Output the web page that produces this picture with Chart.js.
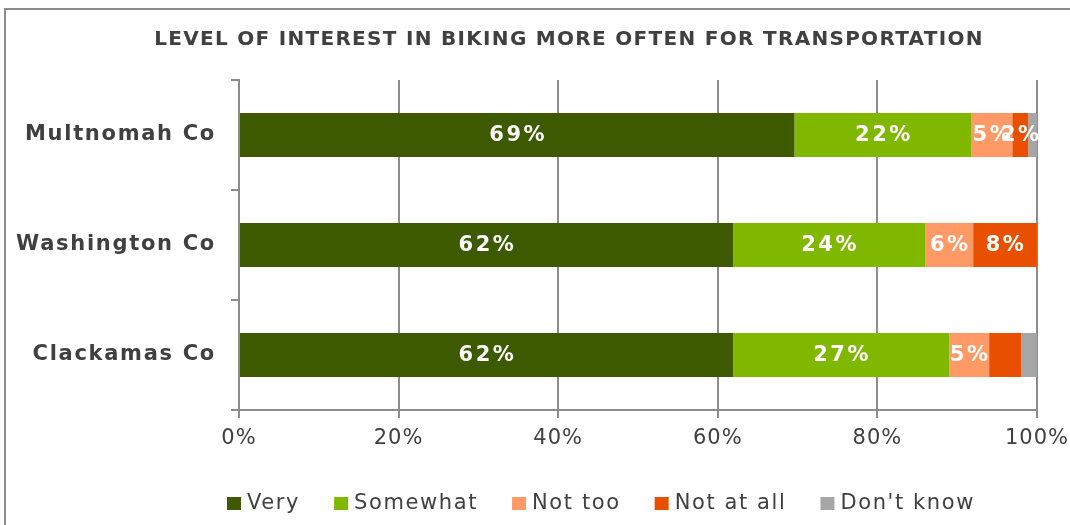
<!DOCTYPE html>
<html>
<head>
<meta charset="utf-8">
<script src="https://cdn.jsdelivr.net/npm/chart.js@4/dist/chart.umd.min.js"></script>
<style>
    html, body { margin: 0; padding: 0; background: #fff; overflow: hidden; }
    #wrap { position: relative; width: 1070px; height: 525px; }
    #frame { position: absolute; left: 4px; top: 8px; width: 1100px; height: 600px; border: 2px solid #8c8c8c; }
    #chart { position: absolute; left: 0; top: 0; }
</style>
</head>
<body>
<div id="wrap">
    <div id="frame"></div>
    <canvas id="chart" width="1070" height="525"></canvas>
</div>
<script>
// 데이터
const categories = ['Multnomah Co', 'Washington Co', 'Clackamas Co'];
const seriesNames = ['Very', 'Somewhat', 'Not too', 'Not at all', "Don't know"];
const veryValues = [69.6, 61.9, 61.9];
const somewhatValues = [22.2, 24.1, 27.1];
const notTooValues = [5.1, 6.0, 5.0];
const notAtAllValues = [2.0, 8.0, 4.0];
const dontKnowValues = [1.1, 0, 2.0];
// 막대 안에 표시되는 라벨 (null = 표시 안 함)
const veryLabels = ['69%', '62%', '62%'];
const somewhatLabels = ['22%', '24%', '27%'];
const notTooLabels = ['5%', '6%', '5%'];
const notAtAllLabels = ['2%', '8%', null];
const dontKnowLabels = [null, null, null];
const xTicks = [0, 20, 40, 60, 80, 100];
const chartTitle = 'LEVEL OF INTEREST IN BIKING MORE OFTEN FOR TRANSPORTATION';

const colors = ['#3d5a00', '#80b800', '#ff9966', '#e85000', '#a6a6a6'];
const FONT = 'Verdana, "DejaVu Sans", sans-serif';
const TEXT = '#404040';
const AXIS = '#8c8c8c';

const allValues = [veryValues, somewhatValues, notTooValues, notAtAllValues, dontKnowValues];
const allLabels = [veryLabels, somewhatLabels, notTooLabels, notAtAllLabels, dontKnowLabels];

const datasets = seriesNames.map((name, i) => ({
    label: name,
    data: allValues[i],
    valueLabels: allLabels[i],
    backgroundColor: colors[i],
    borderWidth: 0,
    categoryPercentage: 1,
    barPercentage: 0.4,
}));

/**
 * 자간, 제목, 값 라벨, 범례
 */
const decorPlugin = {
    id: 'decor',
    beforeDraw(chart) {
        // y축 라벨 자간 (Verdana 폭 맞추기)
        chart.ctx.letterSpacing = '1.7px';
    },
    afterDatasetsDraw(chart) {
        const ctx = chart.ctx;
        ctx.save();
        ctx.font = 'bold 21px ' + FONT;
        ctx.letterSpacing = '2.5px';
        ctx.fillStyle = '#fff';
        ctx.textAlign = 'center';
        ctx.textBaseline = 'middle';
        chart.data.datasets.forEach((ds, i) => {
            const meta = chart.getDatasetMeta(i);
            meta.data.forEach((bar, j) => {
                const text = ds.valueLabels[j];
                if (!text) return;
                const cx = (bar.x + bar.base) / 2 + 1;
                ctx.fillText(text, cx, bar.y + 1);
            });
        });
        ctx.restore();
        // x축 라벨 자간
        ctx.letterSpacing = '1px';
    },
    afterDraw(chart) {
        const ctx = chart.ctx;
        ctx.save();
        // 제목
        ctx.font = 'bold 20px ' + FONT;
        ctx.letterSpacing = '1.3px';
        ctx.fillStyle = TEXT;
        ctx.textAlign = 'center';
        ctx.textBaseline = 'middle';
        ctx.fillText(chartTitle, 569, 40);

        // 범례
        ctx.font = '21px ' + FONT;
        ctx.letterSpacing = '1.6px';
        ctx.textAlign = 'left';
        let x = 227;
        const y = 504;
        chart.data.datasets.forEach(ds => {
            ctx.fillStyle = ds.backgroundColor;
            ctx.fillRect(x, y - 7, 14, 13);
            ctx.fillStyle = TEXT;
            ctx.fillText(ds.label, x + 20, y);
            x += 20 + ctx.measureText(ds.label).width + 34;
        });
        ctx.restore();
        ctx.letterSpacing = '0px';
    }
};

new Chart(document.getElementById('chart').getContext('2d'), {
    type: 'bar',
    data: { labels: categories, datasets },
    plugins: [decorPlugin],
    options: {
        responsive: false,
        animation: false,
        indexAxis: 'y',
        layout: { padding: { top: 80, right: 33, bottom: 0, left: 0 } },
        plugins: {
            legend: { display: false },
            tooltip: { enabled: false },
        },
        scales: {
            x: {
                stacked: true,
                min: 0,
                max: 100,
                afterBuildTicks(scale) {
                    scale.ticks = xTicks.map(v => ({ value: v }));
                },
                afterFit(scale) {
                    scale.height = 115;
                    scale.paddingLeft = 0;
                    scale.paddingRight = 0;
                },
                ticks: {
                    callback: v => v + '%',
                    color: TEXT,
                    font: { family: FONT, size: 21 },
                    padding: 8,
                    maxRotation: 0,
                    z: 1,
                },
                grid: { color: AXIS, lineWidth: 2, tickLength: 8 },
                border: { color: AXIS, width: 2 },
            },
            y: {
                stacked: true,
                afterFit(scale) {
                    scale.width = 239;
                    scale.paddingTop = 0;
                    scale.paddingBottom = 0;
                },
                ticks: {
                    color: TEXT,
                    font: { family: FONT, size: 21, weight: 'bold' },
                    padding: 15,
                },
                grid: { drawOnChartArea: false, color: AXIS, lineWidth: 2, tickLength: 8, offset: true },
                border: { color: AXIS, width: 2 },
            }
        }
    }
});
</script>
</body>
</html>
